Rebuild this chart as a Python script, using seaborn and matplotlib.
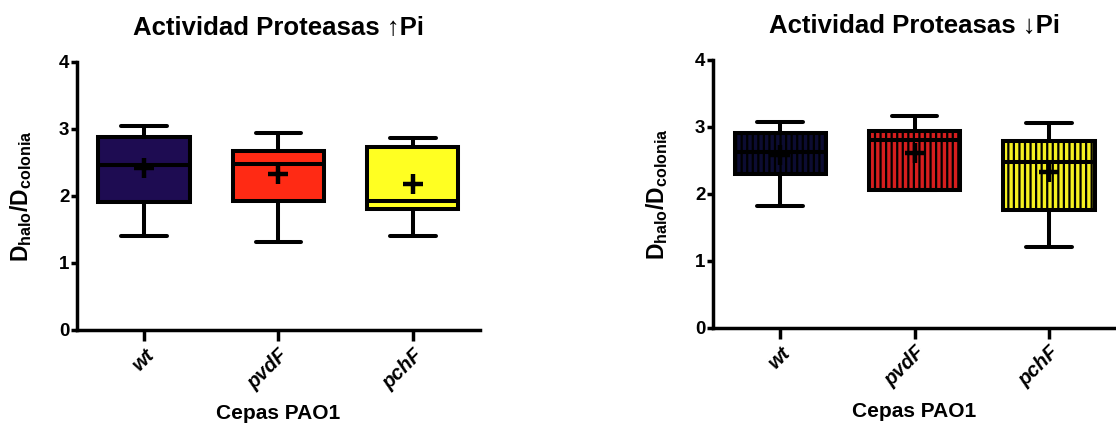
import numpy as np
import pandas as pd
import matplotlib
matplotlib.use("Agg")
import matplotlib.pyplot as plt
import seaborn as sns

# Strains on the x axis
cepas = ["wt", "pvdF", "pchF"]

# High phosphate: five-number summaries and means of D_halo/D_colonia
alto_min = [1.40, 1.31, 1.40]
alto_q1 = [1.91, 1.93, 1.81]
alto_med = [2.46, 2.48, 1.93]
alto_q3 = [2.88, 2.67, 2.73]
alto_max = [3.04, 2.93, 2.87]
alto_media = [2.42, 2.33, 2.18]

# Low phosphate
bajo_min = [1.82, 2.06, 1.21]
bajo_q1 = [2.30, 2.06, 1.76]
bajo_med = [2.62, 2.80, 2.48]
bajo_q3 = [2.90, 2.94, 2.79]
bajo_max = [3.07, 3.16, 3.06]
bajo_media = [2.58, 2.61, 2.33]

colores_alto = ["#1e0c52", "#ff2a14", "#ffff22"]
colores_bajo = ["#0c0c32", "#d61e1e", "#f5f020"]

sns.set_style("ticks")
plt.rcParams["font.family"] = ["Liberation Sans", "DejaVu Sans"]
plt.rcParams["font.weight"] = "bold"
plt.rcParams["text.color"] = "black"
plt.rcParams["axes.labelcolor"] = "black"
plt.rcParams["xtick.color"] = "black"
plt.rcParams["ytick.color"] = "black"
plt.rcParams["mathtext.fontset"] = "custom"
plt.rcParams["mathtext.bf"] = "Liberation Sans:bold"
plt.rcParams["mathtext.rm"] = "Liberation Sans:bold"
plt.rcParams["mathtext.it"] = "Liberation Sans:bold:italic"
plt.rcParams["hatch.linewidth"] = 1.6


def tabla(mins, q1s, meds, q3s, maxs):
    filas = []
    for c, a, b, m, d, e in zip(cepas, mins, q1s, meds, q3s, maxs):
        for v in (a, b, m, d, e):
            filas.append({"cepa": c, "ratio": v})
    return pd.DataFrame(filas)


def panel(ax, df, medias, colores, titulo, rayado):
    sns.boxplot(data=df, x="cepa", y="ratio", hue="cepa", palette=colores,
                order=cepas, whis=(0, 100), showfliers=False, width=0.68,
                linewidth=2.9, linecolor="black", legend=False, ax=ax,
                saturation=1)
    if rayado:
        for p in ax.patches:
            p.set_hatch("|||")
    sns.pointplot(data=pd.DataFrame({"cepa": cepas, "media": medias}),
                  x="cepa", y="media", order=cepas, markers="+",
                  linestyles="none", color="black", errorbar=None,
                  markersize=14, markeredgewidth=3.2, ax=ax, zorder=10)
    ax.set_xlim(-0.5, 2.5)
    ax.set_ylim(0, 4)
    ax.set_yticks([0, 1, 2, 3, 4])
    sns.despine(ax=ax)
    for s in ("left", "bottom"):
        ax.spines[s].set_linewidth(2.5)
        ax.spines[s].set_color("black")
    ax.tick_params(axis="y", width=2.5, length=4, labelsize=13.5, pad=1.5)
    ax.tick_params(axis="x", width=2.5, length=8, pad=3)
    ax.set_xticks(range(3))
    ax.set_xticklabels(cepas, rotation=45, ha="right", rotation_mode="anchor",
                       fontstyle="italic", fontweight="bold", fontsize=14.5)
    for t in ax.get_yticklabels():
        t.set_fontweight("bold")
    ax.set_xlabel("Cepas PAO1", fontsize=15, fontweight="bold", labelpad=8)
    ax.set_ylabel(r"$\mathbf{D_{halo}/D_{colonia}}$", fontsize=16.5,
                  labelpad=18)
    ax.set_title(titulo, fontsize=18.5, fontweight="bold", pad=19)


fig = plt.figure(figsize=(11.16, 4.23), dpi=100)
ax1 = fig.add_axes([0.069, 0.22, 0.361, 0.634])
ax2 = fig.add_axes([0.639, 0.225, 0.361, 0.634])

panel(ax1, tabla(alto_min, alto_q1, alto_med, alto_q3, alto_max), alto_media,
      colores_alto, "Actividad Proteasas \u2191Pi", False)
panel(ax2, tabla(bajo_min, bajo_q1, bajo_med, bajo_q3, bajo_max), bajo_media,
      colores_bajo, "Actividad Proteasas \u2193Pi", True)

fig.savefig("out.png", dpi=100)
